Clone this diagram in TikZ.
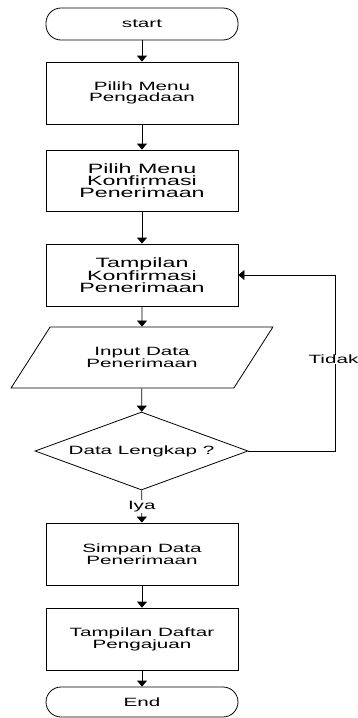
\documentclass[tikz,border=0pt]{standalone}
\usepackage{fontspec}
\setmainfont[FakeStretch=1.72]{Liberation Sans}
\usetikzlibrary{shapes.geometric, arrows.meta}

\begin{document}
\begin{tikzpicture}[x=1pt, y=-1pt,
    every node/.style={font=\fontsize{12}{10.5}\selectfont, align=center},
    proc/.style={rectangle, draw, line width=0.8pt, minimum width=192pt, inner sep=0pt},
    big/.style={font=\fontsize{13.5}{12}\selectfont},
    term/.style={rectangle, draw, line width=0.8pt, rounded corners=15pt, minimum width=192pt, inner sep=0pt},
    io/.style={trapezium, draw, line width=0.8pt, trapezium left angle=41, trapezium right angle=139,
        trapezium stretches=true, minimum width=262pt, minimum height=61pt, inner sep=0pt},
    decide/.style={diamond, draw, line width=0.8pt, aspect=2.73, minimum width=213pt, minimum height=78pt, inner sep=0pt},
    flow/.style={draw, line width=0.8pt, -{Triangle[width=10pt, length=6pt]}},
    lbl/.style={fill=white, inner sep=1pt}]
            \useasboundingbox (0,0) rectangle (358,718);

            %nodes
            \node[term, minimum height=32pt] (start) at (142, 24) {start};
            \node[proc, minimum height=62pt] (menu) at (142, 93) {Pilih Menu\\Pengadaan};
            \node[proc, big, minimum height=61pt] (konf) at (142, 180.5) {Pilih Menu\\Konfirmasi\\Penerimaan};
            \node[proc, big, minimum height=62pt] (tampil) at (142, 275) {Tampilan\\Konfirmasi\\Penerimaan};
            \node[io] (input) at (142, 357.5) {Input Data\\Penerimaan};
            \node[decide] (cek) at (141.5, 451) {Data Lengkap ?};
            \node[proc, minimum height=62pt] (simpan) at (142, 554) {Simpan Data\\Penerimaan};
            \node[proc, minimum height=62pt] (daftar) at (142, 639) {Tampilan Daftar\\Pengajuan};
            \node[term, minimum height=30pt] (end) at (142, 702) {End};
            \coordinate (balik) at (335, 451);

            %edges
            \draw[flow] (start) -- (menu);
            \draw[flow] (menu) -- (konf);
            \draw[flow] (konf) -- (tampil);
            \draw[flow] (tampil) -- (input);
            \draw[flow] (input) -- (cek);
            \draw[flow] (cek) -- node[lbl] {Iya} (simpan);
            \draw[flow] (simpan) -- (daftar);
            \draw[flow] (daftar) -- (end);
            \draw[flow] (cek.east) -- (balik) -- node[lbl, inner sep=0pt, xshift=-1.5pt, pos=0.52] {Tidak} (balik |- tampil.east) -- (tampil.east);
        \end{tikzpicture}
\end{document}
